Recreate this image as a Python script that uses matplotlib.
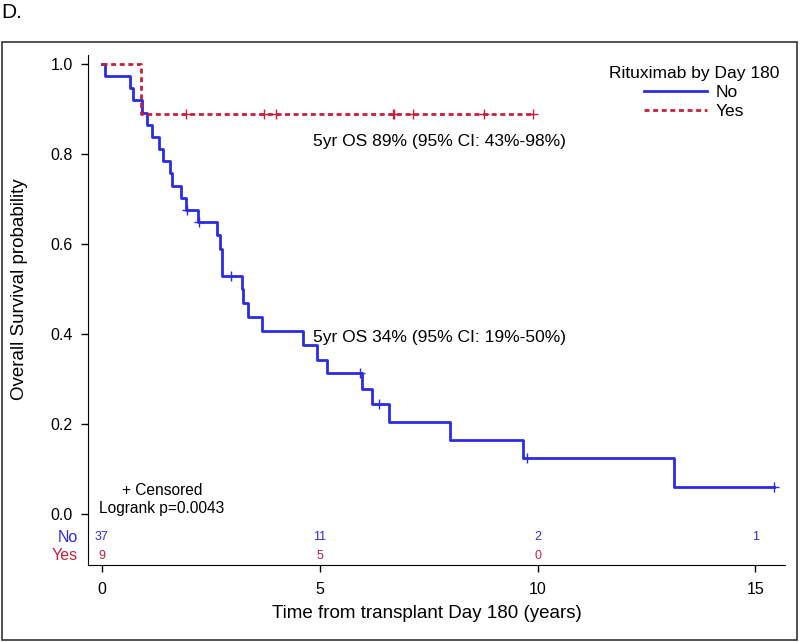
import matplotlib
matplotlib.use('Agg')
import matplotlib.pyplot as plt
from matplotlib.patches import Rectangle

plt.rcParams['font.family'] = ['Liberation Sans', 'DejaVu Sans']

# Kaplan-Meier step curve, Rituximab by Day 180 = No
no_times = [0, 0.07, 0.64, 0.72, 0.91, 1.03, 1.14, 1.31, 1.40, 1.56, 1.60, 1.81, 1.93,
            2.20, 2.63, 2.72, 2.76, 3.21, 3.23, 3.35, 3.67, 4.62, 4.93, 5.16, 5.98,
            6.19, 6.58, 7.99, 9.66, 13.14, 15.42]
no_surv = [1.0, 0.973, 0.946, 0.919, 0.892, 0.865, 0.838, 0.811, 0.784, 0.757, 0.730,
           0.703, 0.676, 0.649, 0.620, 0.590, 0.529, 0.500, 0.470, 0.438, 0.407, 0.376,
           0.342, 0.314, 0.279, 0.244, 0.204, 0.164, 0.124, 0.061, 0.061]
no_cens_t = [1.95, 2.23, 2.97, 5.92, 6.36, 9.75, 15.42]
no_cens_s = [0.676, 0.649, 0.529, 0.314, 0.244, 0.124, 0.061]

# Rituximab by Day 180 = Yes
yes_times = [0, 0.89, 9.90]
yes_surv = [1.0, 0.889, 0.889]
yes_cens_t = [1.94, 3.71, 3.99, 6.67, 6.71, 7.15, 8.76, 9.90]
yes_cens_s = [0.889] * 8

# numbers at risk
risk_times = [0, 5, 10, 15]
no_risk = [37, 11, 2, 1]
yes_risk = [9, 5, 0]

blue = '#2b2be3'
red = '#c8203c'

fig = plt.figure(figsize=(8, 6.42), dpi=100)
fig.patches.append(Rectangle((2 / 800, 2 / 642), 795 / 800, 598 / 642,
                             transform=fig.transFigure, fill=False,
                             edgecolor='#333333', linewidth=1.2))
fig.text(1 / 800, 1 - 12 / 642, 'D.', fontsize=15, va='center', ha='left')

ax = fig.add_axes([88 / 800, 77 / 642, 697 / 800, 510 / 642])

ax.step(no_times, no_surv, where='post', color=blue, lw=2, label='No')
ax.step(yes_times, yes_surv, where='post', color=red, lw=2, dashes=(1.8, 1.3), label='Yes')
ax.plot(no_cens_t, no_cens_s, ls='none', marker='+', ms=7, mew=1, color=blue)
ax.plot(yes_cens_t, yes_cens_s, ls='none', marker='+', ms=7, mew=1, color=red)

for t, n in zip(risk_times, no_risk):
    ax.text(t, -0.051, str(n), color=blue, fontsize=9, ha='center', va='center')
for t, n in zip(risk_times, yes_risk):
    ax.text(t, -0.093, str(n), color=red, fontsize=9, ha='center', va='center')
ax.text(-0.55, -0.051, 'No', color=blue, fontsize=11.5, ha='right', va='center')
ax.text(-0.55, -0.093, 'Yes', color=red, fontsize=11.5, ha='right', va='center')

ax.text(4.85, 0.827, '5yr OS 89% (95% CI: 43%-98%)', fontsize=12.5, va='center')
ax.text(4.85, 0.392, '5yr OS 34% (95% CI: 19%-50%)', fontsize=12.5, va='center')
ax.text(1.38, 0.052, '+ Censored', fontsize=11.2, ha='center', va='center')
ax.text(1.38, 0.013, 'Logrank p=0.0043', fontsize=11.2, ha='center', va='center')

ax.set_xlim(-0.32, 15.68)
ax.set_ylim(-0.113, 1.02)
ax.set_xticks([0, 5, 10, 15])
ax.set_yticks([0, 0.2, 0.4, 0.6, 0.8, 1.0])
ax.set_yticklabels(['0.0', '0.2', '0.4', '0.6', '0.8', '1.0'])
ax.tick_params(axis='both', labelsize=11.5, length=5, width=1)
ax.tick_params(axis='y', pad=6)
ax.tick_params(axis='x', pad=7)
for side in ['top', 'right']:
    ax.spines[side].set_visible(False)

ax.set_xlabel('Time from transplant Day 180 (years)', fontsize=13.5)
ax.xaxis.set_label_coords(0.486, -0.079)
ax.set_ylabel('Overall Survival probability', fontsize=13.5)
ax.yaxis.set_label_coords(-0.086, 0.541)

leg = ax.legend(loc='upper right', bbox_to_anchor=(1.008, 1.0), frameon=False,
                title='Rituximab by Day 180', fontsize=12.5, title_fontsize=12.5,
                handlelength=3.6, borderpad=0.15, labelspacing=0.22, handletextpad=0.5)

fig.savefig('out.png', dpi=100)
